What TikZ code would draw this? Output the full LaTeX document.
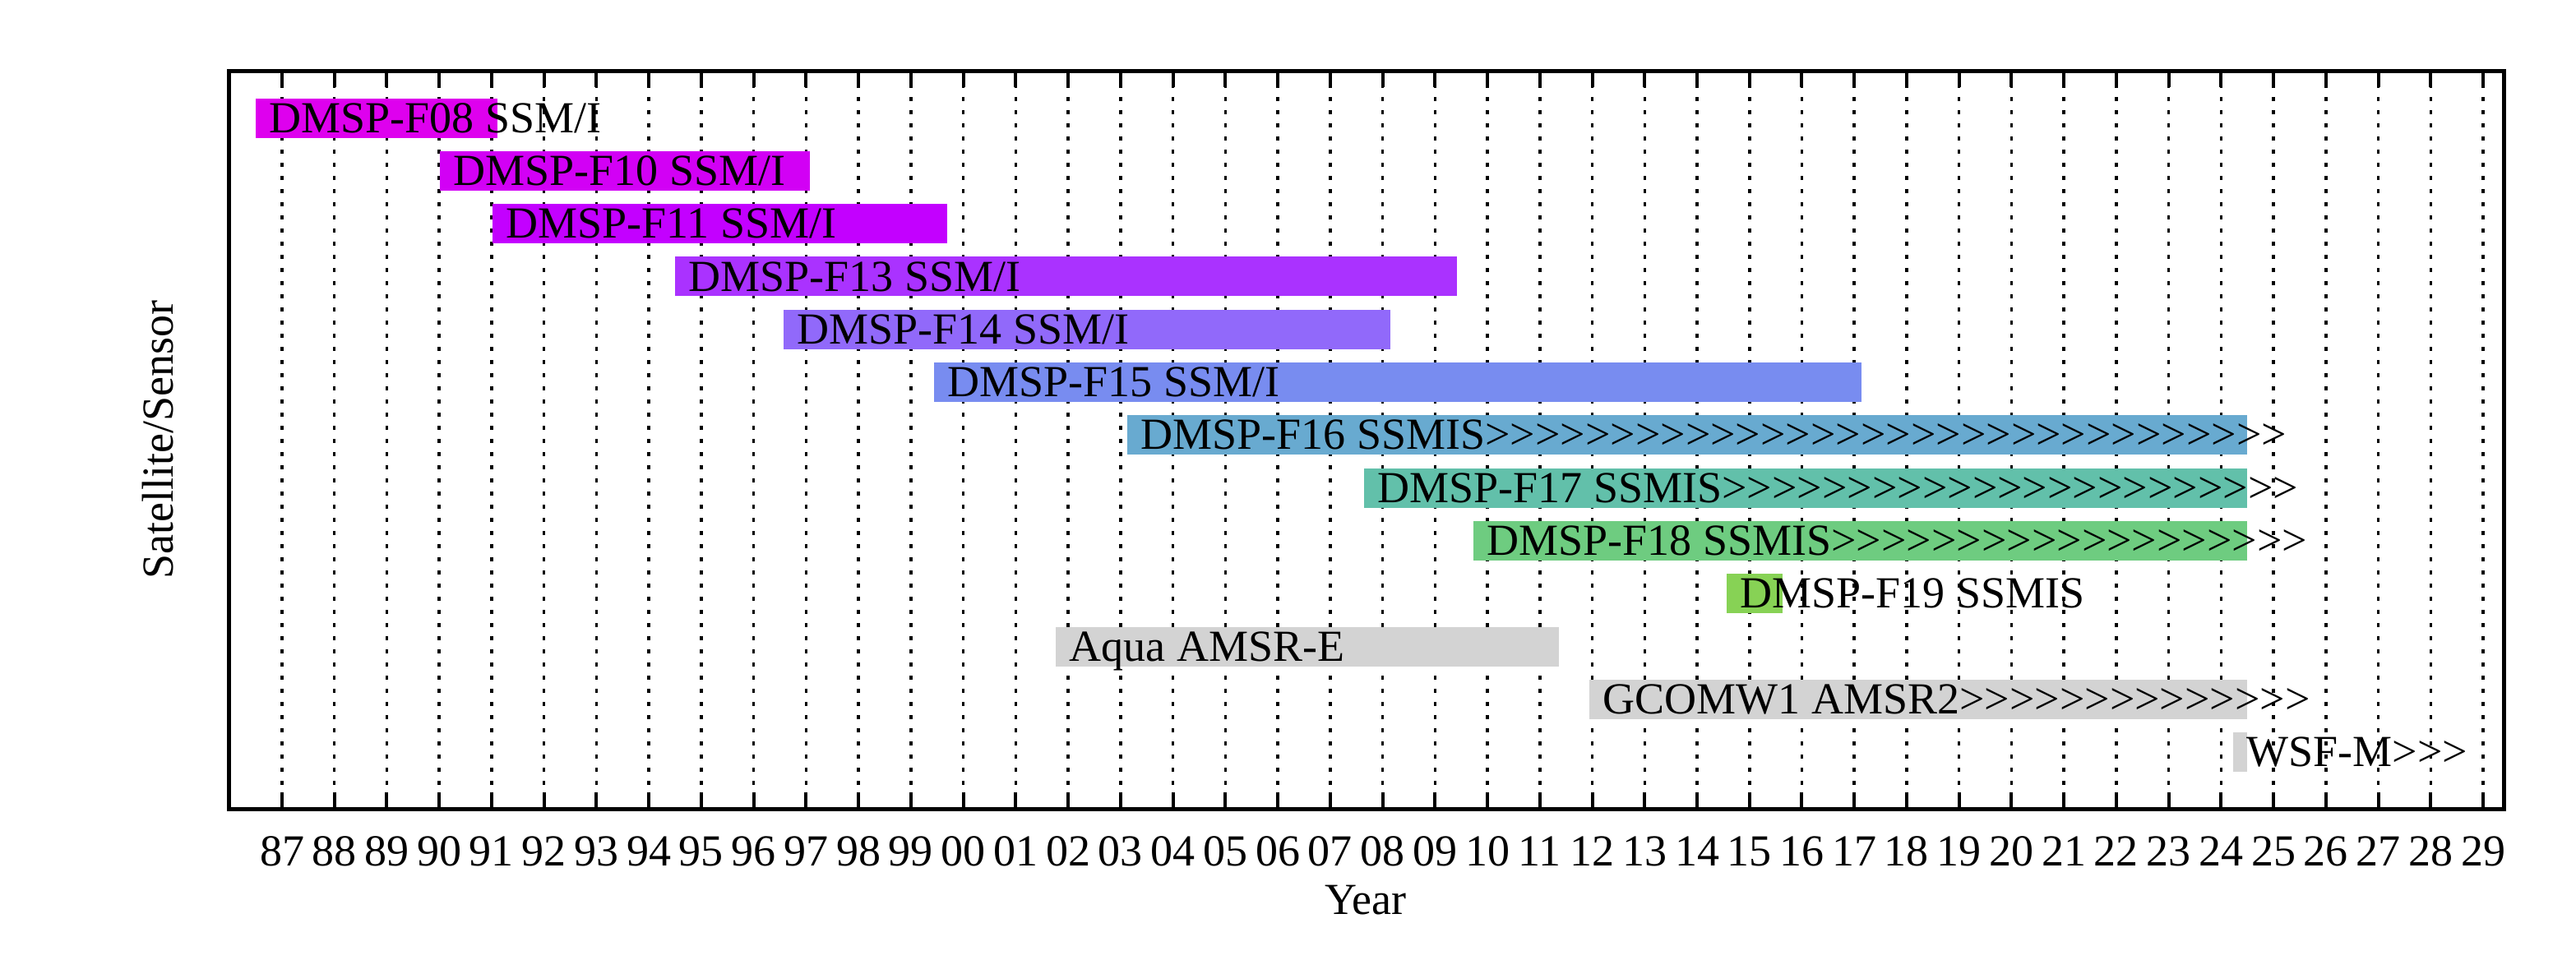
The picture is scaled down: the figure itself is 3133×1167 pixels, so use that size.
\documentclass[tikz,border=0pt]{standalone}
\usepackage{fontspec}
\setmainfont{Liberation Serif}[Ligatures=TeXOff]
\ExplSyntaxOn
\NewDocumentCommand\gts{m}{\prg_replicate:nn{#1}{>}}
\ExplSyntaxOff
\definecolor{cF08}{RGB}{222,0,238}
\definecolor{cF10}{RGB}{210,0,245}
\definecolor{cF11}{RGB}{195,0,255}
\definecolor{cF13}{RGB}{170,50,255}
\definecolor{cF14}{RGB}{145,105,250}
\definecolor{cF15}{RGB}{120,140,240}
\definecolor{cF16}{RGB}{104,170,208}
\definecolor{cF17}{RGB}{98,192,170}
\definecolor{cF18}{RGB}{110,204,128}
\definecolor{cF19}{RGB}{135,210,85}
\definecolor{cGray}{RGB}{211,211,211}
\newcommand\satbar[6]{%
  \fill[#5] (#3,{143.5+64.3*#2-24}) rectangle (#4,{143.5+64.3*#2+24});
  \node[lbl] (#1) at ({#3+16},{143.5+64.3*#2+17.6}) {#6};
}
\begin{document}
\begin{tikzpicture}[x=0.25pt,y=-0.25pt,
  lbl/.style={font=\fontsize{13.5}{16}\selectfont, inner sep=0pt, anchor=base west},
  tlbl/.style={font=\fontsize{13.5}{16}\selectfont, inner sep=0pt, anchor=base},
  gridline/.style={line width=0.875pt, dash pattern=on 1.25pt off 2.75pt},
  framebox/.style={line width=1.25pt},
  tickmark/.style={line width=1pt}]
\useasboundingbox (0,0) rectangle (3133,1167);
% dotted grid
\foreach \k in {0,...,42} {
  \pgfmathsetmacro\xx{343+63.74*\k}
  \draw[gridline] (\xx,86) -- (\xx,984);
}
% bars and labels
\satbar{f08}{0}{311}{605}{cF08}{DMSP-F08 SSM/I}
\satbar{f10}{1}{535}{985}{cF10}{DMSP-F10 SSM/I}
\satbar{f11}{2}{599}{1152}{cF11}{DMSP-F11 SSM/I}
\satbar{f13}{3}{821}{1772}{cF13}{DMSP-F13 SSM/I}
\satbar{f14}{4}{953}{1691}{cF14}{DMSP-F14 SSM/I}
\satbar{f15}{5}{1136}{2264}{cF15}{DMSP-F15 SSM/I}
\satbar{f16}{6}{1371}{2733}{cF16}{DMSP-F16 SSMIS\gts{32}}
\satbar{f17}{7}{1659}{2733}{cF17}{DMSP-F17 SSMIS\gts{23}}
\satbar{f18}{8}{1792}{2733}{cF18}{DMSP-F18 SSMIS\gts{19}}
\satbar{f19}{9}{2100}{2168}{cF19}{DMSP-F19 SSMIS}
\satbar{aqua}{10}{1284}{1896}{cGray}{Aqua AMSR-E}
\satbar{gcom}{11}{1933}{2733}{cGray}{GCOMW1 AMSR2\gts{14}}
\satbar{wsfm}{12}{2716}{2733}{cGray}{WSF-M\gts{3}}
% frame
\draw[framebox] (278,86) rectangle (3045,984);
% ticks and tick labels
\foreach \k/\lab in {0/87,1/88,2/89,3/90,4/91,5/92,6/93,7/94,8/95,9/96,10/97,11/98,12/99,13/00,14/01,15/02,16/03,17/04,18/05,19/06,20/07,21/08,22/09,23/10,24/11,25/12,26/13,27/14,28/15,29/16,30/17,31/18,32/19,33/20,34/21,35/22,36/23,37/24,38/25,39/26,40/27,41/28,42/29} {
  \pgfmathsetmacro\xx{343+63.74*\k}
  \draw[tickmark] (\xx,86) -- (\xx,106);
  \draw[tickmark] (\xx,984) -- (\xx,964);
  \node[tlbl] (t\k) at (\xx,1053) {\lab};
}
% axis titles
\node[tlbl] (xtitle) at (1661,1112) {Year};
\node[tlbl, rotate=90] (ytitle) at (210,535) {Satellite/Sensor};
\end{tikzpicture}
\end{document}
